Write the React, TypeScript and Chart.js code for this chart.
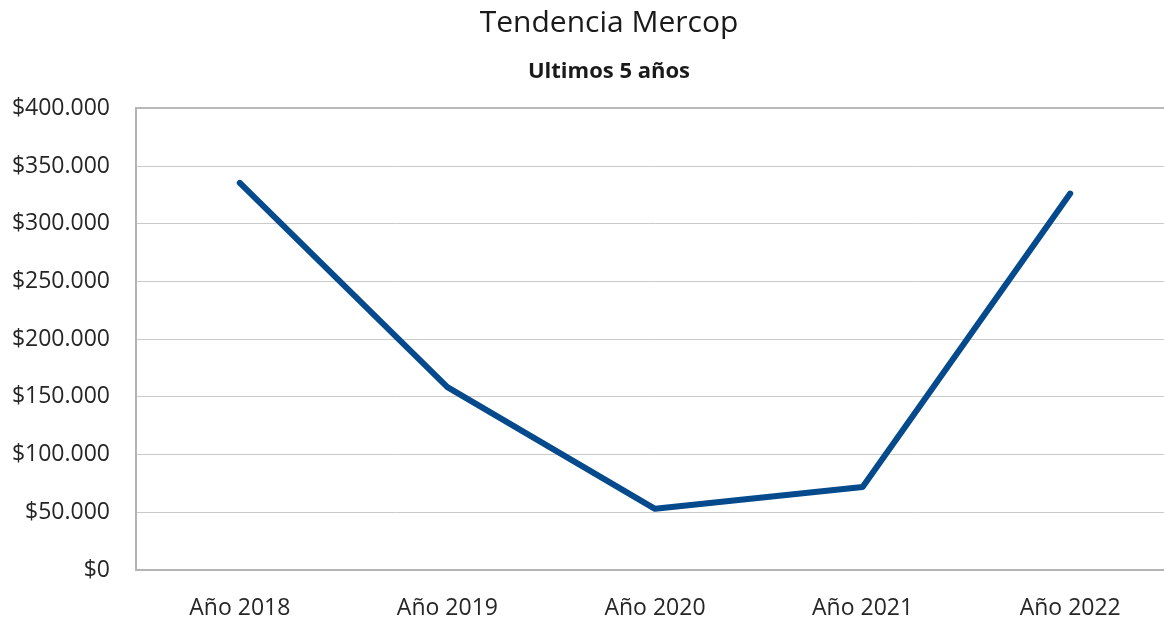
import React, { useEffect, useRef } from "react";
import { Chart, registerables } from "chart.js";

Chart.register(...registerables);

const categories = ["Año 2018", "Año 2019", "Año 2020", "Año 2021", "Año 2022"];
const values = [335500, 158500, 53000, 72000, 326200];
const yTicks = [0, 50000, 100000, 150000, 200000, 250000, 300000, 350000, 400000];

const FONT = "'Open Sans', sans-serif";

function fmt(v: number): string {
  return "$" + String(Math.round(v)).replace(/\B(?=(\d{3})+(?!\d))/g, ".");
}

export default function App() {
  const ref = useRef<HTMLCanvasElement | null>(null);
  useEffect(() => {
    if (!ref.current) return;
    const chart = new Chart(ref.current, {
      type: "line",
      data: {
        labels: categories,
        datasets: [
          {
            data: values,
            borderColor: "#054a8c",
            borderWidth: 6,
            borderCapStyle: "round",
            borderJoinStyle: "round",
            pointRadius: 0,
            pointHoverRadius: 0,
            fill: false,
            tension: 0,
            yAxisID: "y",
          },
        ],
      },
      options: {
        responsive: false,
        animation: false,
        events: [],
        layout: { padding: { left: 0, right: 0, top: 0, bottom: 0 } },
        plugins: {
          legend: { display: false },
          tooltip: { enabled: false },
          title: {
            display: true,
            text: "Tendencia Mercop",
            color: "#1a1a1a",
            font: { family: FONT, size: 30, weight: "normal", lineHeight: 1.2 },
            padding: { top: 5, bottom: 0 },
          },
          subtitle: {
            display: true,
            text: "Ultimos 5 años",
            color: "#1a1a1a",
            font: { family: FONT, size: 22, weight: "bold", lineHeight: 1.2 },
            padding: { top: 18, bottom: 23 },
          },
        },
        scales: {
          x: {
            type: "category",
            offset: true,
            grid: { display: false, offset: true },
            border: { display: true, color: "#b4b4b4", width: 2 },
            ticks: {
              color: "#262626",
              font: { family: FONT, size: 23 },
              padding: 17,
              maxRotation: 0,
            },
            afterFit: (s: any) => {
              s.height = 49;
            },
          },
          y: {
            min: 0,
            max: 400000,
            afterBuildTicks: (s: any) => {
              s.ticks = yTicks.map((v) => ({ value: v }));
            },
            grid: {
              drawTicks: false,
              color: (ctx: any) => (ctx.tick && ctx.tick.value === 400000 ? "#b8b8b8" : "#cacaca"),
              lineWidth: (ctx: any) => (ctx.tick && ctx.tick.value === 400000 ? 2 : 1),
            },
            border: { display: true, color: "#b4b4b4", width: 2 },
            ticks: {
              color: "#262626",
              font: { family: FONT, size: 23 },
              padding: 26,
              callback: (v: any) => fmt(Number(v)),
            },
            afterFit: (s: any) => {
              s.width = 136;
            },
          },
          yRight: {
            type: "linear",
            position: "right",
            min: 0,
            max: 400000,
            grid: { display: false, drawTicks: false },
            border: { display: false },
            ticks: { display: false },
            afterFit: (s: any) => {
              s.width = 44;
            },
          },
        },
      },
    });
    return () => chart.destroy();
  }, []);
  return (
    <div
      style={{
        position: "fixed",
        left: 0,
        top: 0,
        width: 1164,
        height: 619,
        overflow: "hidden",
        background: "#fff",
      }}
    >
      <canvas ref={ref} width={1218} height={619} style={{ display: "block" }} />
    </div>
  );
}
